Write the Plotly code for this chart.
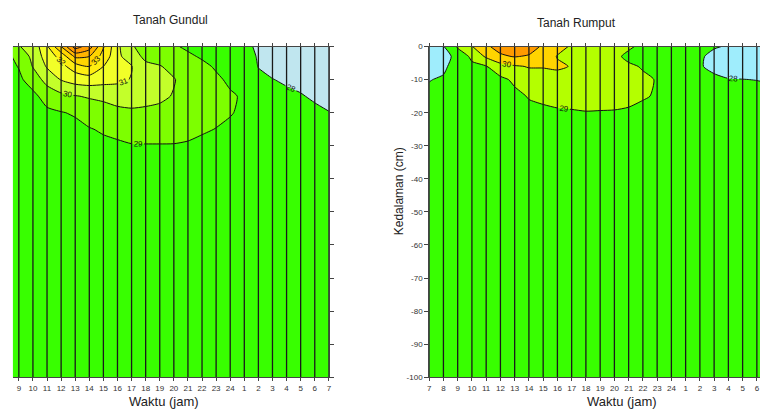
import plotly.graph_objects as go

# ---------------- data ----------------
kedalaman = [0, -3, -6, -10, -15, -20, -25, -30, -40, -100]   # depth (cm)

# Tanah Gundul: hours 8..31 (24 = midnight, 25..31 = 1..7 next day)
jam_gundul = list(range(8, 32))
tick_jam_gundul = list(range(9, 32))
label_gundul = [str(h if h <= 24 else h - 24) for h in tick_jam_gundul]

# temperature profile per hour column, values at the depths above
profil_gundul = [
    [28.3, 28.5, 28.6, 28.7, 28.7, 28.7, 28.6, 28.6, 28.5, 28.5],      # 8
    [29.95, 29.45, 29.05, 28.8, 28.7, 28.7, 28.6, 28.6, 28.5, 28.5],   # 9
    [30.35, 30.2, 30.05, 29.45, 28.75, 28.7, 28.6, 28.6, 28.5, 28.5],  # 10
    [31.85, 31.5, 31.1, 30.35, 29.4, 28.8, 28.7, 28.6, 28.5, 28.5],    # 11
    [34.0, 32.3, 31.7, 31.05, 29.75, 28.95, 28.7, 28.6, 28.5, 28.5],   # 12
    [36.5, 34.2, 32.5, 31.4, 29.95, 29.1, 28.75, 28.6, 28.5, 28.5],    # 13
    [35.5, 34.0, 33.0, 31.5, 30.1, 29.4, 28.95, 28.7, 28.5, 28.5],     # 14
    [33.1, 32.6, 32.0, 31.35, 30.2, 29.6, 29.1, 28.8, 28.6, 28.5],     # 15
    [31.2, 31.3, 31.4, 31.2, 30.4, 29.75, 29.25, 28.85, 28.6, 28.5],   # 16
    [30.1, 30.3, 31.05, 30.95, 30.4, 29.85, 29.35, 28.95, 28.6, 28.5], # 17
    [29.6, 29.85, 30.15, 30.4, 30.25, 29.85, 29.4, 28.95, 28.7, 28.5], # 18
    [29.3, 29.65, 30.05, 30.35, 30.15, 29.8, 29.4, 28.95, 28.7, 28.5], # 19
    [29.1, 29.4, 29.75, 30.05, 29.95, 29.7, 29.35, 28.95, 28.7, 28.5], # 20
    [28.85, 29.15, 29.45, 29.65, 29.7, 29.55, 29.25, 28.9, 28.7, 28.5],# 21
    [28.65, 28.9, 29.2, 29.45, 29.5, 29.35, 29.1, 28.8, 28.65, 28.5],  # 22
    [28.45, 28.65, 28.9, 29.15, 29.3, 29.2, 28.98, 28.75, 28.6, 28.5], # 23
    [28.25, 28.4, 28.6, 28.85, 29.1, 29.05, 28.85, 28.7, 28.6, 28.5],  # 24
    [28.15, 28.25, 28.4, 28.6, 28.9, 28.85, 28.75, 28.65, 28.55, 28.5],# 1
    [27.9, 27.95, 27.98, 28.15, 28.5, 28.6, 28.6, 28.55, 28.5, 28.5],  # 2
    [27.6, 27.7, 27.8, 28.02, 28.3, 28.5, 28.55, 28.5, 28.5, 28.5],    # 3
    [27.5, 27.6, 27.7, 27.9, 28.15, 28.4, 28.5, 28.5, 28.5, 28.5],     # 4
    [27.4, 27.5, 27.6, 27.8, 28.05, 28.3, 28.45, 28.5, 28.5, 28.5],    # 5
    [27.3, 27.4, 27.5, 27.7, 27.9, 28.15, 28.35, 28.45, 28.5, 28.5],   # 6
    [27.2, 27.3, 27.4, 27.6, 27.8, 28.02, 28.25, 28.4, 28.5, 28.5],    # 7
]

# Tanah Rumput: hours 7..31
jam_rumput = list(range(7, 32))
tick_jam_rumput = list(range(7, 32))
label_rumput = [str(h if h <= 24 else h - 24) for h in tick_jam_rumput]

profil_rumput = [
    [27.6, 27.3, 27.5, 27.95, 28.3, 28.5, 28.5, 28.5, 28.5, 28.5],     # 7
    [27.95, 27.4, 27.75, 28.15, 28.4, 28.5, 28.5, 28.5, 28.5, 28.5],   # 8
    [29.1, 28.5, 28.6, 28.7, 28.6, 28.55, 28.5, 28.5, 28.5, 28.5],     # 9
    [29.95, 29.15, 28.85, 28.75, 28.65, 28.55, 28.5, 28.5, 28.5, 28.5],# 10
    [30.85, 30.15, 28.95, 28.8, 28.7, 28.6, 28.5, 28.5, 28.5, 28.5],   # 11
    [31.35, 30.85, 29.6, 28.8, 28.7, 28.6, 28.55, 28.5, 28.5, 28.5],   # 12
    [31.6, 31.05, 29.9, 29.15, 28.8, 28.7, 28.6, 28.5, 28.5, 28.5],    # 13
    [31.45, 30.9, 30.05, 29.6, 29.05, 28.8, 28.65, 28.55, 28.5, 28.5], # 14
    [30.85, 30.6, 30.05, 29.65, 29.2, 28.8, 28.7, 28.6, 28.5, 28.5],   # 15
    [30.3, 29.95, 30.15, 29.6, 29.25, 28.9, 28.75, 28.6, 28.5, 28.5],  # 16
    [29.9, 29.6, 29.95, 29.5, 29.2, 28.95, 28.75, 28.6, 28.5, 28.5],   # 17
    [29.6, 29.4, 29.5, 29.4, 29.2, 28.98, 28.8, 28.6, 28.5, 28.5],     # 18
    [29.45, 29.3, 29.4, 29.35, 29.2, 28.97, 28.8, 28.6, 28.5, 28.5],   # 19
    [29.3, 29.15, 29.3, 29.3, 29.15, 28.97, 28.8, 28.6, 28.5, 28.5],   # 20
    [29.1, 28.85, 29.1, 29.2, 29.1, 28.95, 28.75, 28.6, 28.5, 28.5],   # 21
    [28.85, 28.75, 28.95, 29.1, 29.05, 28.85, 28.7, 28.6, 28.5, 28.5], # 22
    [28.7, 28.6, 28.7, 28.97, 28.95, 28.8, 28.65, 28.55, 28.5, 28.5],  # 23
    [28.55, 28.45, 28.55, 28.75, 28.8, 28.7, 28.6, 28.55, 28.5, 28.5], # 24
    [28.4, 28.3, 28.35, 28.55, 28.7, 28.65, 28.6, 28.5, 28.5, 28.5],   # 1
    [28.25, 28.15, 28.1, 28.35, 28.6, 28.6, 28.55, 28.5, 28.5, 28.5],  # 2
    [28.1, 27.7, 27.7, 28.25, 28.5, 28.55, 28.5, 28.5, 28.5, 28.5],    # 3
    [27.9, 27.5, 27.5, 28.05, 28.4, 28.5, 28.5, 28.5, 28.5, 28.5],     # 4
    [27.8, 27.4, 27.45, 28.02, 28.4, 28.5, 28.5, 28.5, 28.5, 28.5],    # 5
    [27.7, 27.35, 27.4, 27.98, 28.35, 28.5, 28.5, 28.5, 28.5, 28.5],   # 6
    [27.6, 27.3, 27.35, 27.9, 28.3, 28.5, 28.5, 28.5, 28.5, 28.5],     # 7
]

tick_kedalaman = list(range(0, -101, -10))

warna_gundul = ["#c0e6ef", "#38ff00", "#7dff00", "#c3ff2a", "#f2ff28",
                "#ffee10", "#ffd500", "#ffb400", "#ff9a00", "#f08000"]
warna_rumput = ["#9fedfc", "#38ff00", "#b4ff00", "#ffd400", "#ff9a00"]

# ---------------- helpers ----------------
def transpose(cols):
    return [list(r) for r in zip(*cols)]

def stepscale(colors):
    n = len(colors) - 1
    return [[i / n, c] for i, c in enumerate(colors)]

def vlines(hours):
    xs, ys = [], []
    for h in hours:
        xs += [h, h, None]
        ys += [kedalaman[0], kedalaman[-1], None]
    return xs, ys

FONT = "Liberation Sans, Arial, sans-serif"
W, H = 763, 416

fig = go.Figure()

fig.add_trace(go.Contour(
    x=jam_gundul, y=kedalaman, z=transpose(profil_gundul),
    autocontour=False,
    contours=dict(start=28, end=36, size=1, coloring="fill", showlabels=True,
                  labelfont=dict(size=8, color="#111", family=FONT)),
    line=dict(color="#111", width=1, smoothing=0.6),
    colorscale=stepscale(warna_gundul), showscale=False, hoverinfo="skip",
    xaxis="x", yaxis="y"))

fig.add_trace(go.Contour(
    x=jam_rumput, y=kedalaman, z=transpose(profil_rumput),
    autocontour=False,
    contours=dict(start=28, end=31, size=1, coloring="fill", showlabels=True,
                  labelfont=dict(size=8, color="#111", family=FONT)),
    line=dict(color="#111", width=1, smoothing=0.6),
    colorscale=stepscale(warna_rumput), showscale=False, hoverinfo="skip",
    xaxis="x2", yaxis="y2"))

xs, ys = vlines(tick_jam_gundul)
fig.add_trace(go.Scatter(x=xs, y=ys, mode="lines", line=dict(color="#1a1a1a", width=1.3),
                         hoverinfo="skip", showlegend=False, xaxis="x", yaxis="y"))
xs, ys = vlines(tick_jam_rumput)
fig.add_trace(go.Scatter(x=xs, y=ys, mode="lines", line=dict(color="#1a1a1a", width=1.3),
                         hoverinfo="skip", showlegend=False, xaxis="x2", yaxis="y2"))

ydom = [(H - 381.5) / H, (H - 43.5) / H]
axis_common = dict(showgrid=False, zeroline=False, showline=True, linecolor="#444",
                   linewidth=1, ticks="outside", tickcolor="#444",
                   tickfont=dict(size=8, color="#333", family=FONT))

fig.update_layout(
    width=W, height=H, margin=dict(l=0, r=0, t=0, b=0),
    paper_bgcolor="white", plot_bgcolor="white", showlegend=False,
    font=dict(family=FONT),
    xaxis=dict(domain=[11 / W, 329 / W], range=[8.58, 31], tickmode="array",
               tickvals=tick_jam_gundul, ticktext=label_gundul, mirror="ticks",
               ticklen=3, anchor="y", **axis_common),
    yaxis=dict(domain=ydom, range=[-100, 0], side="right", tickmode="array",
               tickvals=tick_kedalaman, showticklabels=False, ticklen=4,
               anchor="x", **axis_common),
    xaxis2=dict(domain=[430 / W, 1.0], range=[7, 30.22], tickmode="array",
                tickvals=tick_jam_rumput, ticktext=label_rumput, mirror="ticks",
                ticklen=3, anchor="y2", **axis_common),
    yaxis2=dict(domain=ydom, range=[-100, 0], tickmode="array", tickvals=tick_kedalaman,
                ticktext=[str(v) for v in tick_kedalaman], ticklen=4,
                anchor="x2", **axis_common),
)

ann = [
    ("Tanah Gundul", 170, 16, 12, 0),
    ("Tanah Rumput", 578, 19, 12, 0),
    ("Waktu (jam)", 163, 406, 13, 0),
    ("Waktu (jam)", 624, 406, 13, 0),
    ("Kedalaman (cm)", 399, 191, 12, -90),
]
for text, px, py, size, ang in ann:
    fig.add_annotation(text=text, x=px / W, y=1 - py / H, xref="paper", yref="paper",
                       showarrow=False, xanchor="center", yanchor="middle", textangle=ang,
                       font=dict(size=size, color="#222", family=FONT))

fig.write_html("out.html", config={"displayModeBar": False, "staticPlot": True},
               post_script="document.body.style.margin='0';document.body.style.overflow='hidden';")
